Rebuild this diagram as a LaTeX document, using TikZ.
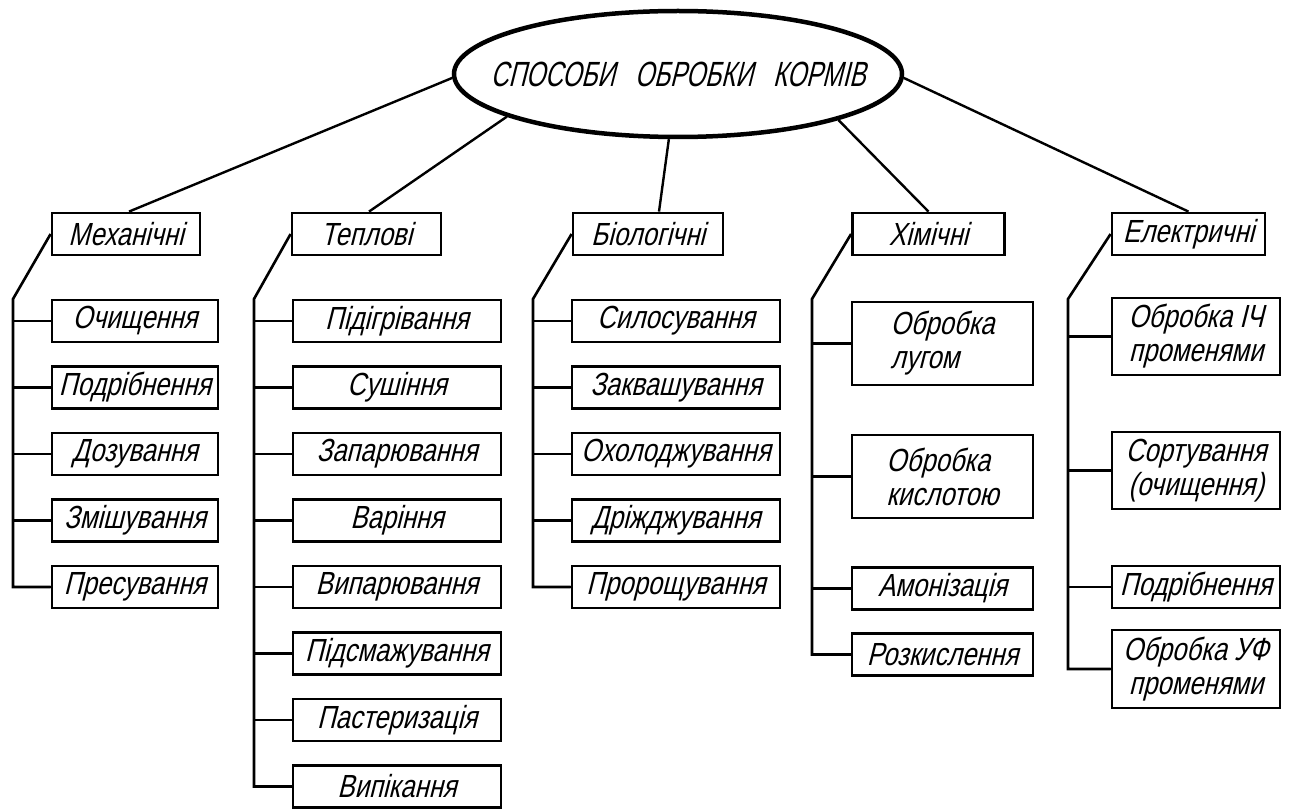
\documentclass[tikz,border=0pt]{standalone}
\usepackage{fontspec}
\newfontfamily\gost{Liberation Sans}[FakeSlant=0.25,FakeStretch=0.8]
\newfontfamily\gosttitle{Liberation Sans}[FakeSlant=0.25,FakeStretch=0.7]
\usetikzlibrary{shapes.geometric,calc}
\begin{document}
\begin{tikzpicture}[x=1pt,y=-1pt,
  box/.style={draw, line width=2.8pt, inner sep=0pt, minimum height=42pt,
    font=\gost\fontsize{32}{34}\selectfont, align=center},
  conn/.style={line width=2.4pt},
  tree/.style={line width=2.6pt}]
\useasboundingbox (0,0) rectangle (1291,810);

% title
\node[ellipse, draw, line width=4.5pt, minimum width=448pt, minimum height=126pt,
  inner sep=0pt, font=\gosttitle\fontsize{35}{40}\selectfont] (title) at (678,74)
  {\makebox[0pt]{СПОСОБИ\hspace{20pt}ОБРОБКИ\hspace{20pt}КОРМІВ}};

% top level
\node[box, minimum width=148pt] (mech) at (126,234) {Механічні};
\node[box, minimum width=149pt] (tepl) at (366.5,234) {Теплові};
\node[box, minimum width=150pt] (bio) at (648,234) {Біологічні};
\node[box, minimum width=152pt] (him) at (928.5,234) {Хімічні};
\node[box, minimum width=153pt] (el) at (1188.5,234) {Електричні};

\draw[conn] (title.181) -- ([xshift=3pt]mech.north);
\draw[conn] (title.194) -- ([xshift=2.5pt]tepl.north);
\draw[conn] (title.262) -- ([xshift=11pt]bio.north);
\draw[conn] (title.344) -- (him.north);
\draw[conn] (title.359) -- (el.north);

% bends
\coordinate (mbend) at (13,299);
\coordinate (tbend) at (254,299);
\coordinate (bbend) at (533,299);
\coordinate (hbend) at (812,299);
\coordinate (ebend) at (1068,299);

% mechanical
\foreach \t [count=\i] in {Очищення,Подрібнення,Дозування,Змішування,Пресування} {
  \node[box, minimum width=166pt] (m\i) at (135,{321+66.5*(\i-1)}) {\t};
  \draw[tree] (mbend |- m\i.west) -- (m\i.west);
}
\draw[tree] (mech.west) -- (mbend) |- (m5.west);

% thermal
\foreach \t [count=\i] in {Підігрівання,Сушіння,Запарювання,Варіння,Випарювання,Підсмажування,Пастеризація,Випікання} {
  \node[box, minimum width=208pt] (t\i) at (397,{321+66.5*(\i-1)}) {\t};
  \draw[tree] (tbend |- t\i.west) -- (t\i.west);
}
\draw[tree] (tepl.west) -- (tbend) |- (t8.west);

% biological
\foreach \t [count=\i] in {Силосування,Заквашування,Охолоджування,Дріжджування,Пророщування} {
  \node[box, minimum width=208pt] (b\i) at (676,{321+66.5*(\i-1)}) {\t};
  \draw[tree] (bbend |- b\i.west) -- (b\i.west);
}
\draw[tree] (bio.west) -- (bbend) |- (b5.west);

% chemical
\node[box, minimum width=181pt, minimum height=83pt, align=left] (h1) at (942.5,343.5) {Обробка\\лугом};
\node[box, minimum width=181pt, minimum height=83pt, align=left] (h2) at (942.5,476.5) {Обробка\\кислотою};
\node[box, minimum width=181pt] (h3) at (942.5,588.5) {Амонізація};
\node[box, minimum width=181pt] (h4) at (942.5,654.5) {Розкислення};
\foreach \i in {1,2,3,4} { \draw[tree] (hbend |- h\i.west) -- (h\i.west); }
\draw[tree] (him.west) -- (hbend) |- (h4.west);

% electrical
\node[box, minimum width=168pt, minimum height=77pt] (e1) at (1196,336.5) {Обробка ІЧ\\променями};
\node[box, minimum width=168pt, minimum height=77pt] (e2) at (1196,470.5) {Сортування\\(очищення)};
\node[box, minimum width=168pt] (e3) at (1196,587) {Подрібнення};
\node[box, minimum width=168pt, minimum height=78pt] (e4) at (1196,669) {Обробка УФ\\променями};
\foreach \i in {1,2,3,4} { \draw[tree] (ebend |- e\i.west) -- (e\i.west); }
\draw[tree] (el.west) -- (ebend) |- (e4.west);
\end{tikzpicture}
\end{document}
